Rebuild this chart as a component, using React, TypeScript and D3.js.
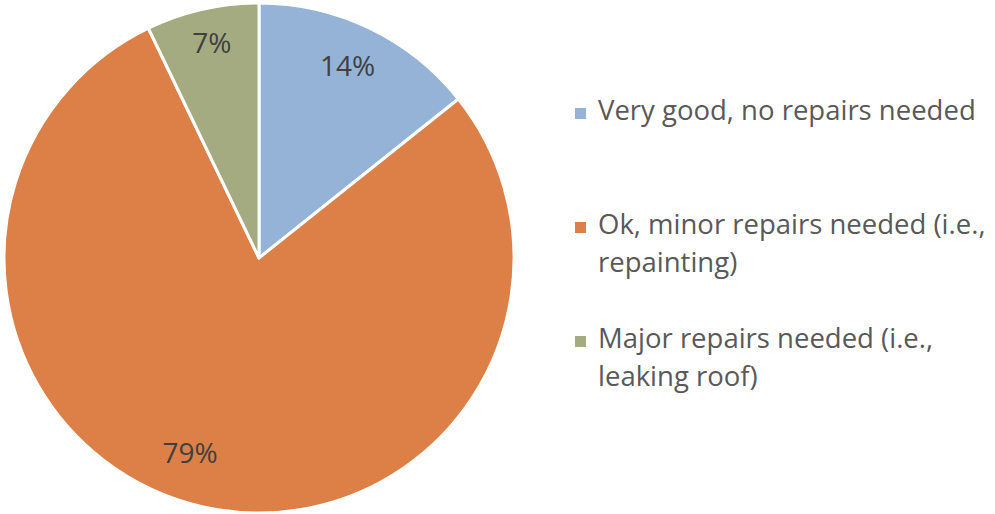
import React from "react";
import * as d3 from "d3";

const categories = [
  "Very good, no repairs needed",
  "Ok, minor repairs needed (i.e., repainting)",
  "Major repairs needed (i.e., leaking roof)",
];
const values = [2, 11, 1];
const legendLines = [
  ["Very good, no repairs needed"],
  ["Ok, minor repairs needed (i.e.,", "repainting)"],
  ["Major repairs needed (i.e.,", "leaking roof)"],
];
const colors = ["#95B3D7", "#DD8047", "#A5AB81"];
// label placement (radius, angle shift in degrees) per slice, mimicking Excel best-fit
const labelRadius = [212, 207, 220];
const labelShift = [-1, 6.6, 0.5];

export default function App() {
  const W = 995, H = 514;
  const cx = 259, cy = 258, r = 255;
  const total = d3.sum(values);
  const pie = d3.pie<number>().sort(null).value((d) => d);
  const arcs = pie(values);
  const arc = d3.arc<d3.PieArcDatum<number>>().innerRadius(0).outerRadius(r);
  const legendY = [120, 234, 348];
  const fmt = d3.format(".0%");
  return (
    <svg width={W} height={H} style={{ position: "absolute", left: 0, top: 0 }}>
      <rect width={W} height={H} fill="#fff" />
      <g transform={`translate(${cx},${cy})`}>
        {arcs.map((a, i) => (
          <path key={i} d={arc(a) || ""} fill={colors[i]} stroke="#fff" strokeWidth={3} strokeLinejoin="round" />
        ))}
        {arcs.map((a, i) => {
          const ang = (a.startAngle + a.endAngle) / 2 + (labelShift[i] * Math.PI) / 180;
          const x = Math.sin(ang) * labelRadius[i];
          const y = -Math.cos(ang) * labelRadius[i];
          return (
            <text key={i} x={x} y={y} dy="0.36em" textAnchor="middle" fontFamily="Open Sans" fontSize={28} fill="#404040">
              {fmt(values[i] / total)}
            </text>
          );
        })}
      </g>
      {categories.map((c, i) => (
        <g key={c}>
          <rect x={575} y={legendY[i] - 12} width={11} height={11} fill={colors[i]} />
          {legendLines[i].map((ln, j) => (
            <text key={j} x={598} y={legendY[i] + j * 38} fontFamily="Open Sans" fontSize={27.5} fill="#595959">
              {ln}
            </text>
          ))}
        </g>
      ))}
    </svg>
  );
}
